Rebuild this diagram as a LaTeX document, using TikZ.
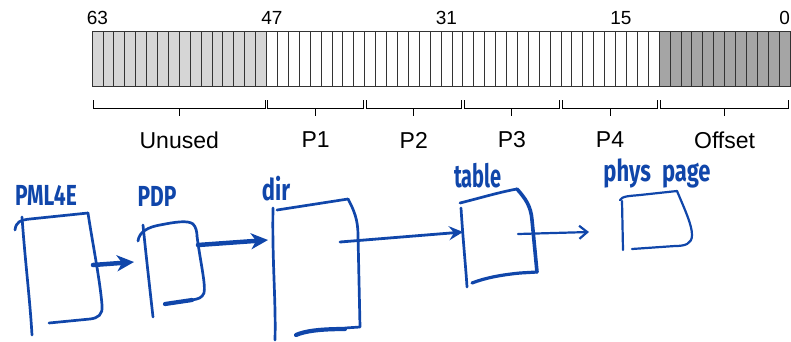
\documentclass[tikz,border=0pt]{standalone}
\usepackage{fontspec}
\usepackage{graphicx}
\setmainfont{Liberation Sans}
\newfontfamily\handfont{Fira Sans}
\usetikzlibrary{arrows.meta}
\definecolor{hblue}{RGB}{16,70,170}
\definecolor{lgray}{RGB}{214,214,214}
\definecolor{dgray}{RGB}{165,165,165}
\begin{document}
\begin{tikzpicture}[x=1pt,y=-1pt,
 cellbox/.style={draw=black!80, line width=0.8pt},
 bitnum/.style={font=\fontsize{19}{19}\selectfont, inner sep=0pt},
 fieldlbl/.style={font=\fontsize{23}{23}\selectfont, inner sep=0pt},
 brk/.style={draw=black, line width=0.9pt},
 hand/.style={text=hblue, inner sep=0pt, font=\handfont\bfseries\fontsize{20}{20}\selectfont},
 ink/.style={draw=hblue, line width=2.7pt, line cap=round, line join=round},
 thickink/.style={ink, line width=4.2pt},
 bigarrow/.style={ink, line width=4.5pt, -{Stealth[length=17pt,width=16pt,inset=5pt]}},
 midarrow/.style={ink, line width=2.8pt, -{Stealth[length=14pt,width=14pt,inset=5pt]}},
 thinarrow/.style={ink, line width=2.2pt, -{Straight Barb[length=8pt,width=13pt]}},
]
\useasboundingbox (0,0) rectangle (791,341);
\pgfmathsetmacro\cw{(790-92)/64}
% bar
\fill[lgray] (92,31.5) rectangle ({92+16*\cw},86.5);
\fill[dgray] ({92+52*\cw},31.5) rectangle (790,86.5);
\foreach \i in {1,...,63} \draw[cellbox] ({92+\i*\cw},31.5) -- ({92+\i*\cw},86.5);
\draw[cellbox] (92,31.5) rectangle (790,86.5);
% bit numbers
\node[bitnum] (b63) at ({92+0.5*\cw},18) {63};
\node[bitnum] (b47) at ({92+16.5*\cw},18) {47};
\node[bitnum] (b31) at ({92+32.5*\cw},18) {31};
\node[bitnum] (b15) at ({92+48.5*\cw},18) {15};
\node[bitnum] (b0) at ({92+63.5*\cw},18) {0};
% brackets
\foreach \a/\b/\t/\n in {0/16/Unused/unused, 16/25/P1/p1, 25/34/P2/p2, 34/43/P3/p3, 43/52/P4/p4, 52/64/Offset/offset}{
  \draw[brk] ({92+\a*\cw+1.3},100) -- ++(0,8) -- ({92+\b*\cw-1.3},108) -- ++(0,-8);
  \draw[brk] ({92+(\a+\b)/2*\cw},108) -- ++(0,8);
  \node[fieldlbl] (\n) at ({92+(\a+\b)/2*\cw},140) {\t};
}
% handwritten labels
\node[hand] (pml) at (46,195) {\scalebox{1.05}[1.45]{PML4E}};
\node[hand] (pdp) at (157,196) {\scalebox{1.05}[1.45]{PDP}};
\node[hand] (dir) at (276,189) {\scalebox{1.1}[1.5]{dir}};
\node[hand] (tbl) at (478,176) {\scalebox{1.0}[1.6]{table}};
\node[hand] (phys) at (657,173) {\scalebox{1.1}[1.5]{phys\hspace{0.5em}page}};
% PML4E box
\draw[ink] (15,230) .. controls (16,222) and (20,220) .. (30,219) -- (88,213);
\draw[ink] (22,217) .. controls (25,260) and (30,300) .. (32,335);
\draw[ink] (88,213) .. controls (92,240) and (100,280) .. (102,305) .. controls (103,315) and (98,318) .. (90,319) -- (49,323);
% PDP box
\draw[ink] (138,241) .. controls (139,232) and (148,227) .. (160,225) .. controls (175,222) and (188,220) .. (193,224) .. controls (196,227) and (197,232) .. (197,236);
\draw[ink] (143,225) .. controls (146,255) and (150,290) .. (153,317);
\draw[ink] (197,236) .. controls (200,260) and (206,285) .. (204,293) .. controls (202,298) and (198,299) .. (192,300);
\draw[thickink] (192,300) -- (165,304);
% dir box
\draw[ink] (273,208) .. controls (272,260) and (276,300) .. (275,340);
\draw[ink] (277,210) -- (348,199);
\draw[ink] (348,199) .. controls (354,210) and (358,220) .. (358,235) -- (360,327) -- (345,328);
\draw[thickink] (345,329) .. controls (320,329) and (305,331) .. (296,335);
% table box
\draw[ink] (460,203) .. controls (480,198) and (500,192) .. (517,189);
\draw[ink] (461,208) .. controls (463,240) and (466,270) .. (467,287);
\draw[thickink, line width=3.6pt] (517,189) .. controls (525,198) and (531,206) .. (532,220) -- (537,272);
\draw[ink, line width=3.2pt] (537,272) -- (520,273) .. controls (500,275) and (485,278) .. (472,283);
% phys page box
\draw[ink, line width=2.2pt] (620,200) .. controls (622,196) and (630,196) .. (640,195) -- (677,191);
\draw[ink, line width=2.2pt] (622,201) -- (623,250);
\draw[ink, line width=2.2pt] (677,191) .. controls (685,210) and (692,225) .. (692,235) .. controls (692,244) and (685,246) .. (675,246) -- (632,249);
% connectors
\coordinate (a1s) at (93,265);
\coordinate (a1e) at (134,262);
\coordinate (a2s) at (198,245);
\coordinate (a2e) at (268,240);
\coordinate (a3s) at (340,242);
\coordinate (a3e) at (463,232);
\coordinate (a4s) at (518,234);
\coordinate (a4e) at (589,232);
\draw[bigarrow] (a1s) -- (a1e);
\draw[bigarrow] (a2s) -- (a2e);
\draw[midarrow] (a3s) -- (a3e);
\draw[thinarrow] (a4s) -- (a4e);
\end{tikzpicture}
\end{document}
